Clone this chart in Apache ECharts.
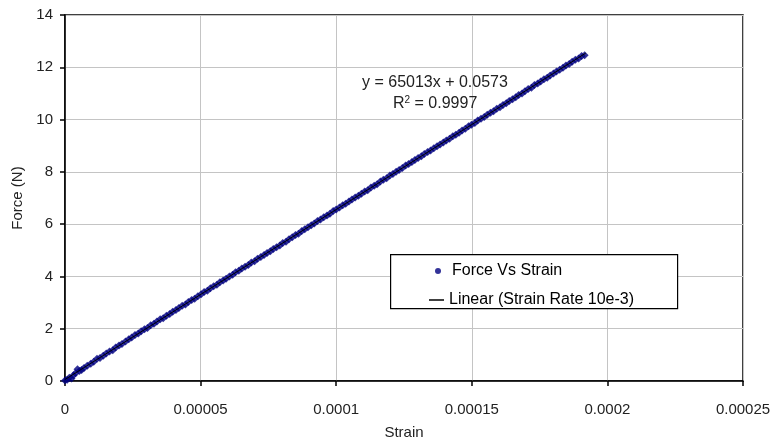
<!DOCTYPE html>
<html>
<head>
<meta charset="utf-8">
<script src="https://cdn.jsdelivr.net/npm/echarts@6/dist/echarts.min.js"></script>
<style>
  html, body { margin: 0; padding: 0; background: #fff; }
  #chart { width: 778px; height: 440px; }
</style>
</head>
<body>
<div id="chart"></div>
<script>
// strain in micro-strain (x 1e-6)
var strainMicro = [0, 0.8, 1.6, 2.4, 3.1, 3.9, 4.6, 5.3, 6.1, 7.0, 8.2, 9.5, 10.6, 11.8, 12.9, 14.1, 15.2, 16.4, 17.6, 18.7,
  19.9, 21.0, 22.3, 23.5, 24.6, 25.8, 27.0, 28.1, 29.3, 30.4, 31.6, 32.8, 33.9, 35.1, 36.2, 37.4, 38.6, 39.7, 40.9, 42.0,
  43.2, 44.4, 45.5, 46.7, 47.8, 49.0, 50.2, 51.3, 52.5, 53.6, 54.8, 56.0, 57.1, 58.3, 59.4, 60.6, 61.8, 62.9, 64.1, 65.2,
  66.4, 67.6, 68.7, 69.9, 71.0, 72.2, 73.4, 74.5, 75.7, 76.8, 78.0, 79.2, 80.3, 81.5, 82.6, 83.8, 85.0, 86.1, 87.3, 88.4,
  89.6, 90.8, 91.9, 93.1, 94.2, 95.4, 96.6, 97.7, 98.9, 100.0, 101.2, 102.4, 103.5, 104.7, 105.8, 107.0, 108.2, 109.3, 110.5, 111.6,
  112.8, 114.0, 115.1, 116.3, 117.4, 118.6, 119.8, 120.9, 122.1, 123.2, 124.4, 125.6, 126.7, 127.9, 129.0, 130.2, 131.4, 132.5, 133.7, 134.8,
  136.0, 137.2, 138.3, 139.5, 140.6, 141.8, 143.0, 144.1, 145.3, 146.4, 147.6, 148.8, 149.9, 151.1, 152.2, 153.4, 154.6, 155.7, 156.9, 158.0,
  159.2, 160.4, 161.5, 162.7, 163.8, 165.0, 166.2, 167.3, 168.5, 169.6, 170.8, 172.0, 173.1, 174.3, 175.4, 176.6, 177.8, 178.9, 180.1, 181.2,
  182.4, 183.6, 184.7, 185.9, 187.0, 188.2, 189.4, 190.5, 191.6];
var force = [0.02, 0.05, 0.12, 0.10, 0.22, 0.30, 0.45, 0.38, 0.42, 0.50, 0.58, 0.66, 0.74, 0.85, 0.88, 0.97, 1.05, 1.13, 1.18, 1.28,
  1.36, 1.42, 1.51, 1.60, 1.66, 1.76, 1.82, 1.90, 1.98, 2.03, 2.13, 2.19, 2.28, 2.36, 2.40, 2.50, 2.56, 2.65, 2.72, 2.79,
  2.88, 2.93, 3.02, 3.10, 3.15, 3.24, 3.32, 3.40, 3.45, 3.55, 3.62, 3.68, 3.78, 3.84, 3.91, 4.00, 4.06, 4.16, 4.22, 4.30,
  4.37, 4.44, 4.53, 4.58, 4.68, 4.74, 4.82, 4.90, 4.96, 5.05, 5.12, 5.18, 5.28, 5.33, 5.42, 5.50, 5.58, 5.63, 5.74, 5.80,
  5.88, 5.96, 6.02, 6.12, 6.18, 6.26, 6.33, 6.40, 6.50, 6.56, 6.64, 6.72, 6.78, 6.87, 6.94, 7.02, 7.09, 7.16, 7.25, 7.30,
  7.40, 7.47, 7.53, 7.63, 7.70, 7.76, 7.86, 7.92, 8.00, 8.07, 8.15, 8.24, 8.30, 8.38, 8.45, 8.53, 8.60, 8.68, 8.76, 8.82,
  8.90, 8.98, 9.05, 9.12, 9.20, 9.27, 9.36, 9.42, 9.50, 9.58, 9.65, 9.74, 9.80, 9.87, 9.96, 10.03, 10.10, 10.18, 10.26, 10.32,
  10.41, 10.47, 10.56, 10.62, 10.71, 10.78, 10.85, 10.94, 11.00, 11.08, 11.17, 11.22, 11.32, 11.38, 11.46, 11.54, 11.60, 11.69, 11.76, 11.84,
  11.91, 11.98, 12.07, 12.13, 12.21, 12.29, 12.34, 12.43, 12.46];

// trendline end points (y = 65013x + 0.0573)
var trendStrain = [0, 0.000192];
var trendForce = [0.0573, 12.54];

var xTicks = ['0', '0.00005', '0.0001', '0.00015', '0.0002', '0.00025'];

var pts = strainMicro.map(function (s, i) { return [s * 1e-6, force[i]]; });
var trend = trendStrain.map(function (s, i) { return [s, trendForce[i]]; });

var font = 'Liberation Sans, Arial, sans-serif';
var textColor = '#222';

var chart = echarts.init(document.getElementById('chart'));
chart.setOption({
  animation: false,
  backgroundColor: '#fff',
  grid: {
    left: 65, top: 15, right: 35, bottom: 59,
    outerBoundsMode: 'none', containLabel: false,
    show: true, borderColor: '#000', borderWidth: 1.5
  },
  xAxis: {
    type: 'value', min: 0, max: 0.00025, interval: 0.00005,
    name: 'Strain', nameLocation: 'middle', nameGap: 44,
    nameTextStyle: { fontFamily: font, fontSize: 15, color: textColor },
    axisLine: { lineStyle: { color: '#000', width: 1.5 } },
    axisTick: { length: 5, lineStyle: { color: '#000', width: 1.5 } },
    axisLabel: {
      margin: 21, fontFamily: font, fontSize: 15, color: textColor,
      formatter: function (v) { return xTicks[Math.round(v / 0.00005)]; }
    },
    splitLine: { lineStyle: { color: '#c4c4c4', width: 1 } }
  },
  yAxis: {
    type: 'value', min: 0, max: 14, interval: 2,
    name: 'Force (N)', nameLocation: 'middle', nameGap: 36, nameRotate: 90,
    nameTextStyle: { fontFamily: font, fontSize: 15, color: textColor },
    axisLine: { show: true, lineStyle: { color: '#000', width: 1.5 } },
    axisTick: { show: true, length: 5, lineStyle: { color: '#000', width: 1.5 } },
    axisLabel: { margin: 12, fontFamily: font, fontSize: 15, color: textColor },
    splitLine: { lineStyle: { color: '#c4c4c4', width: 1 } }
  },
  legend: [{
    data: ['Force Vs Strain'],
    left: 430, top: 258, icon: 'circle', itemWidth: 6, itemHeight: 6,
    textStyle: { fontFamily: font, fontSize: 16, color: '#000', padding: [0, 0, 0, 6] }
  }, {
    data: ['Linear (Strain Rate 10e-3)'],
    left: 424, top: 287, icon: 'rect', itemWidth: 15, itemHeight: 1.5,
    textStyle: { fontFamily: font, fontSize: 16, color: '#000' }
  }],
  graphic: [{
    type: 'rect', left: 390, top: 254, z: 1,
    shape: { width: 287, height: 54 },
    style: { fill: '#fff', stroke: '#000', lineWidth: 1.2 }
  }, {
    type: 'text', left: 362, top: 75, z: 5,
    style: { text: 'y = 65013x + 0.0573', fontFamily: font, fontSize: 16, fill: textColor }
  }, {
    type: 'text', left: 393, top: 95, z: 5,
    style: {
      text: '{b|R}{s|2}{b| = 0.9997}', fill: textColor,
      rich: {
        b: { fontFamily: font, fontSize: 16, fill: textColor },
        s: { fontFamily: font, fontSize: 10, fill: textColor, verticalAlign: 'top', padding: [0, 0, 8, 0] }
      }
    }
  }],
  series: [{
    name: 'Force Vs Strain', type: 'scatter',
    data: pts, symbol: 'diamond', symbolSize: 8,
    itemStyle: { color: '#000080' }
  }, {
    name: 'Linear (Strain Rate 10e-3)', type: 'line',
    data: trend, symbol: 'none', z: 3,
    lineStyle: { color: '#000', width: 1 },
    itemStyle: { color: '#000' }
  }]
});
</script>
</body>
</html>
